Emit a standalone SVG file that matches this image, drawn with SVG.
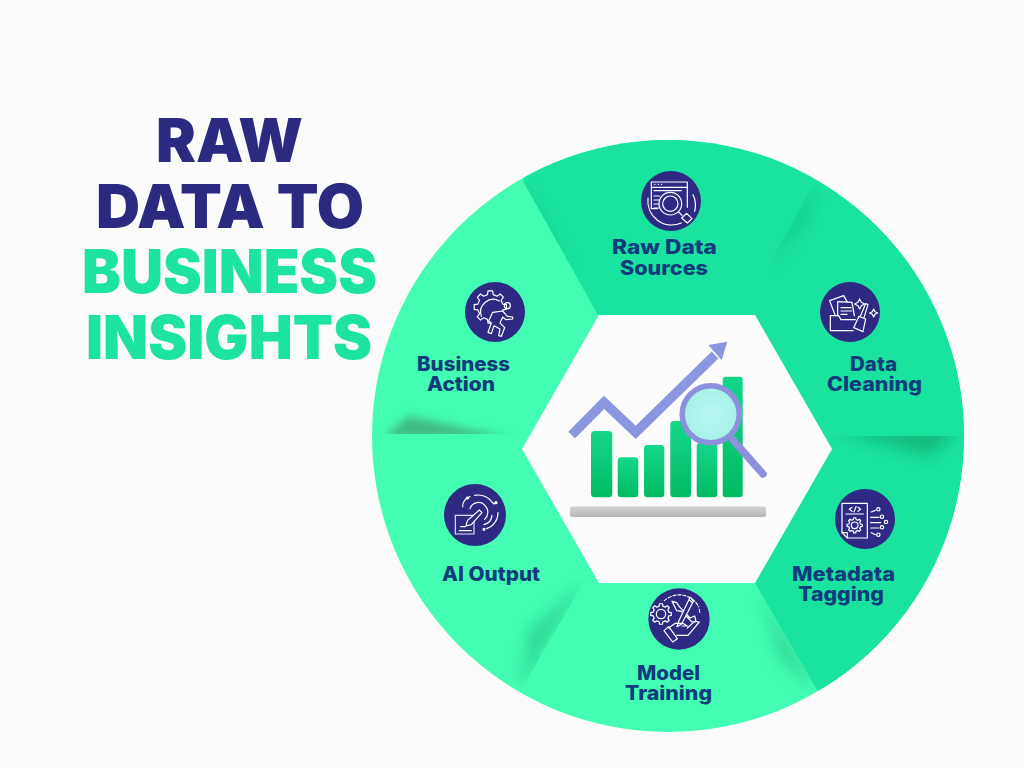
<svg xmlns="http://www.w3.org/2000/svg" width="1024" height="768" viewBox="0 0 1024 768">
<style>
text{font-family:"Inter","Liberation Sans",sans-serif;font-weight:900;text-anchor:start}
.t{font-size:60px}
.navy{fill:#2b2a80}
.teal{fill:#1de3a0}
.l{font-size:20px;font-weight:800;fill:#103b7c}
.disc{fill:#2e2a84}
.i{fill:none;stroke:#fff;stroke-width:3.6;stroke-linecap:round;stroke-linejoin:round}
.gear{stroke-width:1.200px;vector-effect:non-scaling-stroke}
.bar{fill:url(#barG)}
</style>
<defs>
<linearGradient id="barG" x1="0" y1="0" x2="0" y2="1"><stop offset="0" stop-color="#14d68a"/><stop offset="1" stop-color="#02bb63"/></linearGradient>
<linearGradient id="shelfG" x1="0" y1="0" x2="0" y2="1"><stop offset="0" stop-color="#d4d4d4"/><stop offset="1" stop-color="#b5b5b5"/></linearGradient>
<radialGradient id="lens"><stop offset="0" stop-color="#b8f9f2"/><stop offset="1" stop-color="#a6f1e8"/></radialGradient>
<filter id="b6" x="-50%" y="-50%" width="200%" height="200%"><feGaussianBlur stdDeviation="7"/></filter>
<filter id="b4" x="-50%" y="-50%" width="200%" height="200%"><feGaussianBlur stdDeviation="4"/></filter>
<clipPath id="discClip"><circle cx="668" cy="436" r="296"/></clipPath>
<clipPath id="below"><rect x="826" y="436" width="150" height="40"/></clipPath>
<clipPath id="above"><rect x="370" y="390" width="150" height="44"/></clipPath>
<clipPath id="modelSide"><polygon points="755,583 817,690 700,740 680,583"/></clipPath>
<clipPath id="aiSide"><polygon points="588,575 522,688 470,640 520,560"/></clipPath>
<clipPath id="cleanSide"><polygon points="815,181 740,315 860,315 860,181"/></clipPath>
<clipPath id="topSide"><polygon points="523,181 598,315 680,315 680,170"/></clipPath>
<path id="gearShape" class="gear" d="M38-8.800L49.500-7V7L38 8.800L33.100 20.700L39.900 30.100L30.100 39.900L20.700 33.100L8.800 38L7 49.500H-7L-8.800 38L-20.700 33.100L-30.100 39.900L-39.900 30.100L-33.100 20.700L-38 8.800L-49.500 7V-7L-38-8.800L-33.100-20.700L-39.900-30.100L-30.100-39.900L-20.700-33.100L-8.800-38L-7-49.500H7L8.800-38L20.700-33.100L30.100-39.900L39.900-30.100L33.100-20.700Z"/>
</defs>
<rect width="1024" height="768" fill="#fbfbfc"/>

<g id="title">
<text class="t navy" x="156" y="162" textLength="147" lengthAdjust="spacingAndGlyphs">RAW</text>
<text class="t navy" x="96" y="228" textLength="268" lengthAdjust="spacingAndGlyphs">DATA TO</text>
<text class="t teal" x="82" y="293" textLength="295" lengthAdjust="spacingAndGlyphs">BUSINESS</text>
<text class="t teal" x="86" y="359" textLength="286" lengthAdjust="spacingAndGlyphs">INSIGHTS</text>
</g>

<g id="wheel" clip-path="url(#discClip)">
<rect x="360" y="130" width="620" height="610" fill="#43fdb3"/>
<polygon points="523,181 598,315 740,315 815,181 800,120 540,120" fill="#1ae29f"/>
<polygon points="815,181 740,315 755,315 832,449 755,583 817,690 990,690 990,120 800,120" fill="#1ae29f"/>
<g clip-path="url(#below)"><polygon points="835,430 958,430 930,456" fill="#07834f" opacity=".42" filter="url(#b6)"/></g>
<g clip-path="url(#above)"><polygon points="384,438 512,438 408,416" fill="#3f8f68" opacity=".6" filter="url(#b4)"/></g>
<g clip-path="url(#modelSide)"><polygon points="760,592 819,692 780,660" fill="#0a9c66" opacity=".35" filter="url(#b6)"/></g>
<g clip-path="url(#aiSide)"><polygon points="584,582 520,690 528,630" fill="#0a9c66" opacity=".35" filter="url(#b6)"/></g>
<g clip-path="url(#cleanSide)"><polygon points="816,180 766,268 806,220" fill="#07a874" opacity=".4" filter="url(#b6)"/></g>
<g clip-path="url(#topSide)"><polygon points="522,180 572,268 536,220" fill="#07a874" opacity=".3" filter="url(#b6)"/></g>
<polygon points="599,315 755,315 832,449 755,583 599,583 522,449" fill="#fcfcfc"/>
</g>

<g id="chart">
<rect x="570" y="506.500" width="196" height="10.500" rx="2" fill="url(#shelfG)"/>
<rect class="bar" x="722.700" y="376.700" width="20" height="120.600" rx="3"/>
<rect class="bar" x="591" y="431" width="21.300" height="66.300" rx="3.500"/>
<rect class="bar" x="617.700" y="457.300" width="20.600" height="40" rx="3.500"/>
<rect class="bar" x="644" y="445" width="20.300" height="52.300" rx="3.500"/>
<rect class="bar" x="670.300" y="421" width="20.700" height="76.300" rx="3.500"/>
<rect class="bar" x="696.700" y="443" width="20.600" height="54.300" rx="3"/>
<polyline points="571.700,435 604,402.300 635.700,432.300 715,355" fill="none" stroke="#8c95e0" stroke-width="9.500" stroke-linejoin="miter"/>
<polygon points="727.300,341.700 708.300,345 721.700,360" fill="#8c95e0"/>
<line x1="733" y1="440" x2="763" y2="474" stroke="#8d90dc" stroke-width="7.500" stroke-linecap="round"/>
<circle cx="710.700" cy="414.300" r="28.500" fill="url(#lens)" stroke="#8d90dc" stroke-width="5.500"/>
</g>

<g id="raw-data-sources">
<g transform="translate(638 168) scale(.3333)">
<circle class="disc" cx="99" cy="99" r="90"/>
<g class="i">
<path d="M58 122H40V42H148V118"/><path d="M40 58H148"/>
<path d="M50 49h1M60 49h1M70 49h1"/>
<path d="M48 68H130M48 84H64M48 96H62M48 108H62M48 120H62"/>
<path d="M30 90A72 72 0 0 0 130 165M165 80A72 72 0 0 1 170 130"/>
<circle cx="97" cy="107" r="34"/><circle cx="97" cy="107" r="23"/>
<path d="M122 132L132 142"/><path d="M131 150L146 136L162 152L148 165Z"/>
</g></g>
<text class="l" x="612" y="254" textLength="105" lengthAdjust="spacingAndGlyphs">Raw Data</text>
<text class="l" x="620" y="275" textLength="88" lengthAdjust="spacingAndGlyphs">Sources</text>
</g>

<g id="data-cleaning">
<g transform="translate(817 279) scale(.3333)">
<circle class="disc" cx="99" cy="99" r="90"/>
<g class="i">
<path d="M55 110L38 65L80 50L90 68"/><path d="M62 110V68L105 70L112 110"/>
<path d="M72 86H102M72 96H104M72 106H90"/>
<path d="M40 155V110H65L72 122H115M40 155H108"/>
<path d="M130 112L146 74L153 77L141 116"/><path d="M126 112L146 120L138 158L110 146Z" fill="#2e2a84"/>
<path d="M128 60L133 70L143 75L133 80L128 90L123 80L113 75L123 70Z"/>
<path d="M170 90L174 98L182 102L174 106L170 114L166 106L158 102L166 98Z"/>
</g></g>
<text class="l" x="850" y="371" textLength="47" lengthAdjust="spacingAndGlyphs">Data</text>
<text class="l" x="827" y="391" textLength="95" lengthAdjust="spacingAndGlyphs">Cleaning</text>
</g>

<g id="metadata-tagging">
<g transform="translate(832 486) scale(.3333)">
<circle class="disc" cx="99" cy="99" r="90"/>
<g class="i">
<path d="M46 156L30 140V52H106V156Z"/><path d="M30 140H46V156"/>
<path d="M42 84H94"/>
<path d="M60 64L52 70L60 76M72 62L66 78M78 64L86 70L78 76"/>
<circle cx="68" cy="118" r="10"/>
<use href="#gearShape" transform="translate(68 118) scale(.46)"/>
<path d="M118 78L130 73M116 94H141M116 110H146M116 126H141M118 140L130 146"/>
<circle cx="139" cy="70" r="5"/><circle cx="150" cy="92" r="5"/><circle cx="162" cy="108" r="5"/><circle cx="150" cy="124" r="5"/><circle cx="139" cy="146" r="5"/>
</g></g>
<text class="l" x="792" y="581" textLength="103" lengthAdjust="spacingAndGlyphs">Metadata</text>
<text class="l" x="798" y="601" textLength="86" lengthAdjust="spacingAndGlyphs">Tagging</text>
</g>

<g id="model-training">
<g transform="translate(646 586) scale(.3333)">
<circle class="disc" cx="99" cy="99" r="92"/>
<g class="i">
<path d="M55 44A66 66 0 0 1 158 62M160 70L162 82" stroke-dasharray="9 6"/>
<circle cx="45" cy="84" r="14"/>
<use href="#gearShape" transform="translate(45 84) scale(.62)"/>
<path d="M84 58L78 46L92 50L100 62L132 96L146 90L150 106L138 108L106 76L92 74Z"/>
<path d="M98 106L93 122L107 114L142 46L134 34L130 38Z" fill="#2e2a84"/><path d="M130 42L140 50"/>
<path d="M54 134L68 122L94 158L80 168Z" fill="#2e2a84"/>
<path d="M68 126L88 112H110L124 120H108M92 148H126L160 108L146 106L124 126"/>
</g></g>
<text class="l" x="637" y="680" textLength="63" lengthAdjust="spacingAndGlyphs">Model</text>
<text class="l" x="625" y="700" textLength="87" lengthAdjust="spacingAndGlyphs">Training</text>
</g>

<g id="ai-output">
<g transform="translate(442 482) scale(.3333)">
<circle class="disc" cx="99" cy="99" r="93"/>
<g class="i">
<path d="M40 100H96V156H40Z" stroke="#e6dcff"/>
<path d="M56 134H70M52 146H88"/>
<path d="M84 80A26 26 0 0 1 130 72A28 28 0 0 1 128 112"/>
<path d="M72 132L76 116L112 84L120 92L88 128Z" fill="#2e2a84"/>
<path d="M62 74A30 30 0 0 1 84 44"/><circle cx="76" cy="48" r="3"/>
<path d="M98 40A54 54 0 0 1 150 60L156 66L162 62"/><circle cx="162" cy="62" r="3"/>
<path d="M168 92A50 50 0 0 1 134 140"/><circle cx="126" cy="142" r="3"/>
<path d="M150 100A32 32 0 0 1 126 128"/>
</g></g>
<text class="l" x="442" y="581" textLength="98" lengthAdjust="spacingAndGlyphs">AI Output</text>
</g>

<g id="business-action">
<g transform="translate(462 279) scale(.3333)">
<circle class="disc" cx="99" cy="99" r="90"/>
<g class="i">
<use href="#gearShape" transform="translate(85 84) scale(.98)"/>
<path d="M112 66A38 38 0 0 0 58 112"/>
<circle cx="136" cy="80" r="9"/>
<path d="M80 126L92 100L122 96L136 112L152 114L152 120L132 122L122 114L114 132L128 146L118 172L110 170L114 150L96 140L88 164L78 160L88 132L80 126" fill="#2e2a84"/>
</g></g>
<text class="l" x="417" y="371" textLength="93" lengthAdjust="spacingAndGlyphs">Business</text>
<text class="l" x="427" y="391" textLength="68" lengthAdjust="spacingAndGlyphs">Action</text>
</g>
</svg>
